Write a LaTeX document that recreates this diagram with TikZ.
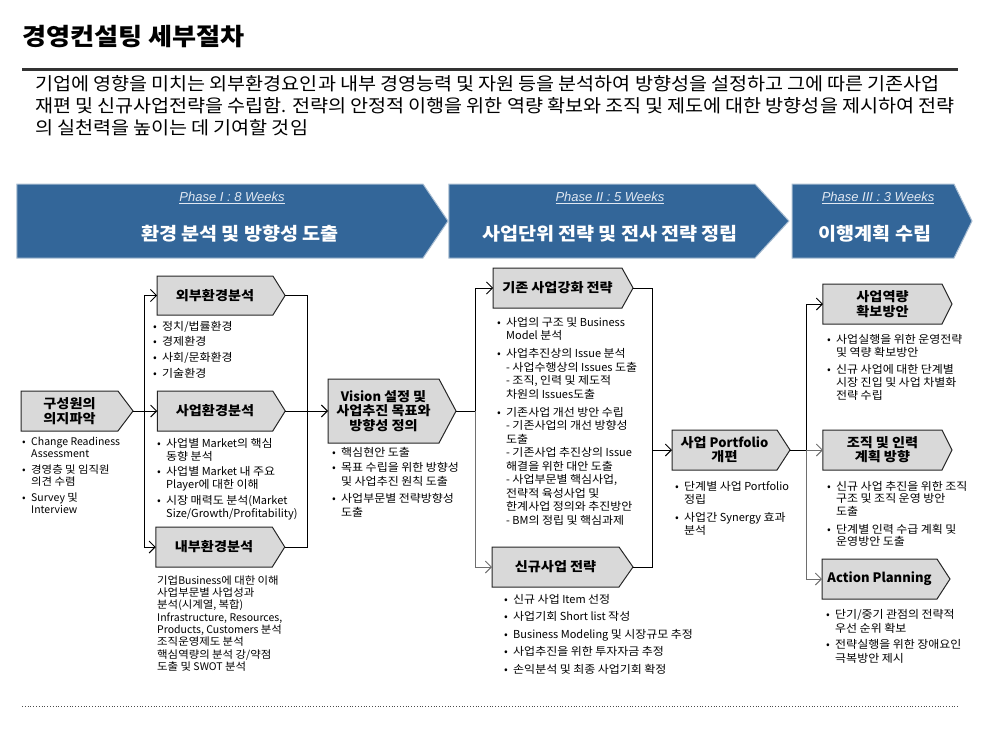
\documentclass[tikz,border=0pt]{standalone}
\usepackage{fontspec}
\setmainfont{Noto Sans CJK KR}
\newfontfamily\hanfont{Noto Sans CJK KR}[FakeStretch=1.09]
\newfontfamily\phfont{Liberation Sans}
\XeTeXinterchartokenstate=1
\newcount\hcnt
\hcnt="AC00
\loop
  \XeTeXcharclass\hcnt=7
  \advance\hcnt by 1
\ifnum\hcnt<"D7A4 \repeat
\XeTeXinterchartoks 0 7 = {\hanfont}
\XeTeXinterchartoks 1 7 = {\hanfont}
\XeTeXinterchartoks 2 7 = {\hanfont}
\XeTeXinterchartoks 3 7 = {\hanfont}
\XeTeXinterchartoks 4095 7 = {\hanfont}
\XeTeXinterchartoks 7 0 = {\rmfamily}
\XeTeXinterchartoks 7 1 = {\rmfamily}
\XeTeXinterchartoks 7 2 = {\rmfamily}
\XeTeXinterchartoks 7 3 = {\rmfamily}
\XeTeXinterchartoks 7 4095 = {\rmfamily}
\usetikzlibrary{shapes.symbols,arrows.meta}
\definecolor{phblue}{RGB}{51,102,153}
\definecolor{phedge}{RGB}{170,190,210}
\definecolor{phtext}{RGB}{225,232,242}
\definecolor{boxgray}{RGB}{217,217,217}
\definecolor{conngray}{RGB}{110,110,110}
\newcommand\itm{\makebox[9pt][l]{•}}
\newcommand\ind{\hspace*{9pt}}
\newcommand\tstrut{\rule{0pt}{10pt}}
\begin{document}
\begin{tikzpicture}[x=1pt,y=-1pt,
  phase/.style={signal, signal to=east, fill=phblue, draw=phedge, line width=1pt, minimum height=74pt, inner sep=0pt, outer sep=0pt},
  phlabel/.style={inner sep=0pt, text=phtext, font=\phfont\itshape\fontsize{13}{15}\selectfont},
  phtitle/.style={inner sep=0pt, text=white, font=\fontsize{18}{20}\selectfont\bfseries},
  pbox/.style={signal, signal to=east, fill=boxgray, draw=black!85, line width=1pt, minimum height=40pt, inner sep=0pt, outer sep=0pt, align=center, font=\fontsize{13}{15}\selectfont\bfseries},
  note/.style={anchor=north west, align=left, inner sep=0pt, font=\fontsize{11}{13}\selectfont},
  conn/.style={draw=black, line width=0.9pt},
  arr/.style={conn, -{Straight Barb[length=6pt,width=12pt]}},
  garr/.style={arr, draw=conngray}
]
\useasboundingbox (0,0) rectangle (983,737);

% title and intro
\node[anchor=base west, inner sep=0pt, font=\fontsize{24}{28}\selectfont\bfseries] (title) at (22,45) {경영컨설팅 세부절차};
\draw[line width=3pt, black!80] (22,69) -- (958,69);
\node[anchor=north west, align=left, inner sep=0pt, font=\fontsize{18}{22}\selectfont] (intro) at (35,73)
 {\rule{0pt}{17pt}기업에 영향을 미치는 외부환경요인과 내부 경영능력 및 자원 등을 분석하여 방향성을 설정하고 그에 따른 기존사업\\
  재편 및 신규사업전략을 수립함. 전략의 안정적 이행을 위한 역량 확보와 조직 및 제도에 대한 방향성을 제시하여 전략\\
  의 실천력을 높이는 데 기여할 것임};

% phases
\node[phase, signal pointer angle=112, minimum width=431pt] (ph1) at (220,221) {};
\node[phase, signal pointer angle=95, minimum width=340pt] (ph2) at (602,221) {};
\node[phase, signal pointer angle=128, minimum width=180pt] (ph3) at (873,221) {};
\node[phlabel] (ph1l) at (232,198) {\underline{Phase I : 8 Weeks}};
\node[phlabel] (ph2l) at (610,198) {\underline{Phase II : 5 Weeks}};
\node[phlabel] (ph3l) at (878,198) {\underline{Phase III : 3 Weeks}};
\node[phtitle] (ph1t) at (240,234) {환경 분석 및 방향성 도출};
\node[phtitle] (ph2t) at (610,234) {사업단위 전략 및 전사 전략 정립};
\node[phtitle] (ph3t) at (875,234) {이행계획 수립};

% process boxes
\node[pbox, signal pointer angle=106, minimum width=112pt] (g1) at (69.5,411) {구성원의\\의지파악};
\node[pbox, signal pointer angle=116, minimum width=128pt, minimum height=39pt] (s1) at (215,295.5) {외부환경분석};
\node[pbox, signal pointer angle=116, minimum width=128pt] (s2) at (215,411) {사업환경분석};
\node[pbox, signal pointer angle=116, minimum width=129pt] (s3) at (214,547) {내부환경분석};
\node[pbox, signal pointer angle=124, minimum width=128pt, minimum height=64pt, font=\fontsize{13}{14.5}\selectfont\bfseries] (v) at (383.5,411) {Vision 설정 및\\사업추진 목표와\\방향성 정의};
\node[pbox, signal pointer angle=122, minimum width=140pt] (k1) at (557.5,288) {기존 사업강화 전략};
\node[pbox, signal pointer angle=110, minimum width=141pt] (k2) at (555.5,567) {신규사업 전략};
\node[pbox, signal pointer angle=114, minimum width=118pt, font=\fontsize{13}{14}\selectfont\bfseries] (p) at (724.5,450) {사업 Portfolio\\개편};
\node[pbox, signal pointer angle=127, minimum width=129pt] (r1) at (882.5,304) {사업역량\\확보방안};
\node[pbox, signal pointer angle=127, minimum width=129pt, font=\fontsize{13}{14}\selectfont\bfseries] (r2) at (882.5,450) {조직 및 인력\\계획 방향};
\node[pbox, signal pointer angle=114, minimum width=128pt] (r3) at (879.5,579) {Action Planning};

% connectors
\coordinate (j1) at (144,411);
\draw[conn] (g1.east) -- (j1);
\draw[arr] (j1) -- (s2.west);
\draw[arr] (j1) |- (s1.west);
\draw[arr] (j1) |- (s3.west);
\coordinate (j2) at (307,411);
\draw[conn] (s1.east) -| (j2);
\draw[conn] (s3.east) -| (j2);
\draw[arr] (s2.east) -- (v.west);
\coordinate (j3) at (475,411);
\draw[conn] (v.east) -- (j3);
\draw[arr] (j3) |- (k1.west);
\draw[garr] (j3) |- (k2.west);
\coordinate (j4) at (652,450);
\draw[conn] (k1.east) -| (j4);
\draw[conn] (k2.east) -| (j4);
\draw[arr] (j4) -- (p.west);
\coordinate (j5) at (806,450);
\draw[conn] (p.east) -- (j5);
\draw[arr] (j5) |- (r1.west);
\draw[garr] (j5) -- (r2.west);
\draw[garr] (j5) |- (r3.west);

% notes
\node[note, font=\fontsize{10.5}{12}\selectfont] (g1n) at (22,435)
 {\tstrut\itm Change Readiness\\ \ind Assessment\\[4pt]
  \itm 경영층 및 임직원\\ \ind 의견 수렴\\[4pt]
  \itm Survey 및\\ \ind Interview};
\node[note] (s1n) at (153,320)
 {\tstrut\itm 정치/법률환경\\[2.7pt] \itm 경제환경\\[2.7pt] \itm 사회/문화환경\\[2.7pt] \itm 기술환경};
\node[note] (s2n) at (157,437)
 {\tstrut\itm 사업별 Market의 핵심\\ \ind 동향 분석\\[2.5pt]
  \itm 사업별 Market 내 주요\\ \ind Player에 대한 이해\\[2.5pt]
  \itm 시장 매력도 분석(Market\\ \ind Size/Growth/Profitability)};
\node[note, font=\fontsize{10.5}{12.3}\selectfont] (s3n) at (157,574)
 {\tstrut 기업Business에 대한 이해\\ 사업부문별 사업성과\\ 분석(시계열, 복합)\\
  Infrastructure, Resources,\\ Products, Customers 분석\\ 조직운영제도 분석\\
  핵심역량의 분석 강/약점\\ 도출 및 SWOT 분석};
\node[note, font=\fontsize{11}{14}\selectfont] (vn) at (332,446)
 {\tstrut\itm 핵심현안 도출\\[1pt]
  \itm 목표 수립을 위한 방향성\\ \ind 및 사업추진 원칙 도출\\[3.5pt]
  \itm 사업부문별 전략방향성\\ \ind 도출};
\node[note, font=\fontsize{11}{13.5}\selectfont] (k1n) at (497,316)
 {\tstrut\itm 사업의 구조 및 Business\\ \ind Model 분석\\[4.5pt]
  \itm 사업추진상의 Issue 분석\\ \ind - 사업수행상의 Issues 도출\\ \ind - 조직, 인력 및 제도적\\ \ind 차원의 Issues도출\\[4.5pt]
  \itm 기존사업 개선 방안 수립\\ \ind - 기존사업의 개선 방향성\\ \ind 도출\\ \ind - 기존사업 추진상의 Issue\\ \ind 해결을 위한 대안 도출\\
  \ind - 사업부문별 핵심사업,\\ \ind 전략적 육성사업 및\\ \ind 한계사업 정의와 추진방안\\ \ind - BM의 정립 및 핵심과제};
\node[note, font=\fontsize{11}{13.5}\selectfont] (k2n) at (504,593)
 {\tstrut\itm 신규 사업 Item 선정\\[4pt] \itm 사업기회 Short list 작성\\[4pt]
  \itm Business Modeling 및 시장규모 추정\\[4pt] \itm 사업추진을 위한 투자자금 추정\\[4pt]
  \itm 손익분석 및 최종 사업기회 확정};
\node[note] (pn) at (675,480)
 {\tstrut\itm 단계별 사업 Portfolio\\ \ind 정립\\[5pt] \itm 사업간 Synergy 효과\\ \ind 분석};
\node[note, font=\fontsize{11}{12.8}\selectfont] (r1n) at (827,333)
 {\tstrut\itm 사업실행을 위한 운영전략\\ \ind 및 역량 확보방안\\[5pt]
  \itm 신규 사업에 대한 단계별\\ \ind 시장 진입 및 사업 차별화\\ \ind 전략 수립};
\node[note, font=\fontsize{11}{12.5}\selectfont] (r2n) at (827,480)
 {\tstrut\itm 신규 사업 추진을 위한 조직\\ \ind 구조 및 조직 운영 방안\\ \ind 도출\\[5.5pt]
  \itm 단계별 인력 수급 계획 및\\ \ind 운영방안 도출};
\node[note, font=\fontsize{11}{14}\selectfont] (r3n) at (826,608)
 {\tstrut\itm 단기/중기 관점의 전략적\\ \ind 우선 순위 확보\\[2pt]
  \itm 전략실행을 위한 장애요인\\ \ind 극복방안 제시};

\draw[dotted, line width=0.8pt, black!70] (22,706) -- (958,706);
\end{tikzpicture}
\end{document}
